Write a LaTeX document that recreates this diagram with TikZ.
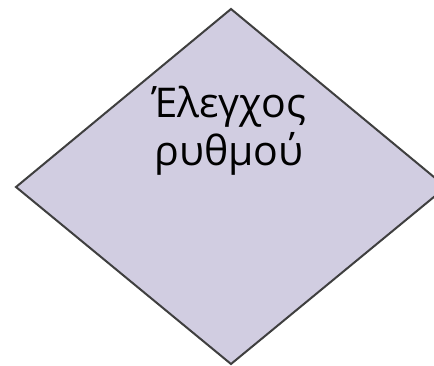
\documentclass[tikz,border=0pt]{standalone}
\usepackage{fontspec}
\setmainfont{Open Sans}
\definecolor{diafill}{HTML}{D1CDE1}
\definecolor{diaedge}{HTML}{3F3F3F}
\tikzset{decision/.style={draw=diaedge, fill=diafill, line width=2pt, line join=miter},
 lbl/.style={align=center, font=\fontsize{41}{48}\selectfont, text=black, inner sep=0pt}}
\begin{document}
\begin{tikzpicture}[x=1pt,y=-1pt]
\useasboundingbox (0,0) rectangle (434,365);
\coordinate (t) at (231,9);
\coordinate (r) at (446,187);
\coordinate (b) at (231,364);
\coordinate (l) at (16,187);
\draw[decision] (t) -- (r) -- (b) -- (l) -- cycle;
\node[lbl, anchor=base] (txt) at (229,165) {Έλεγχος\\ρυθμού};
\end{tikzpicture}
\end{document}
